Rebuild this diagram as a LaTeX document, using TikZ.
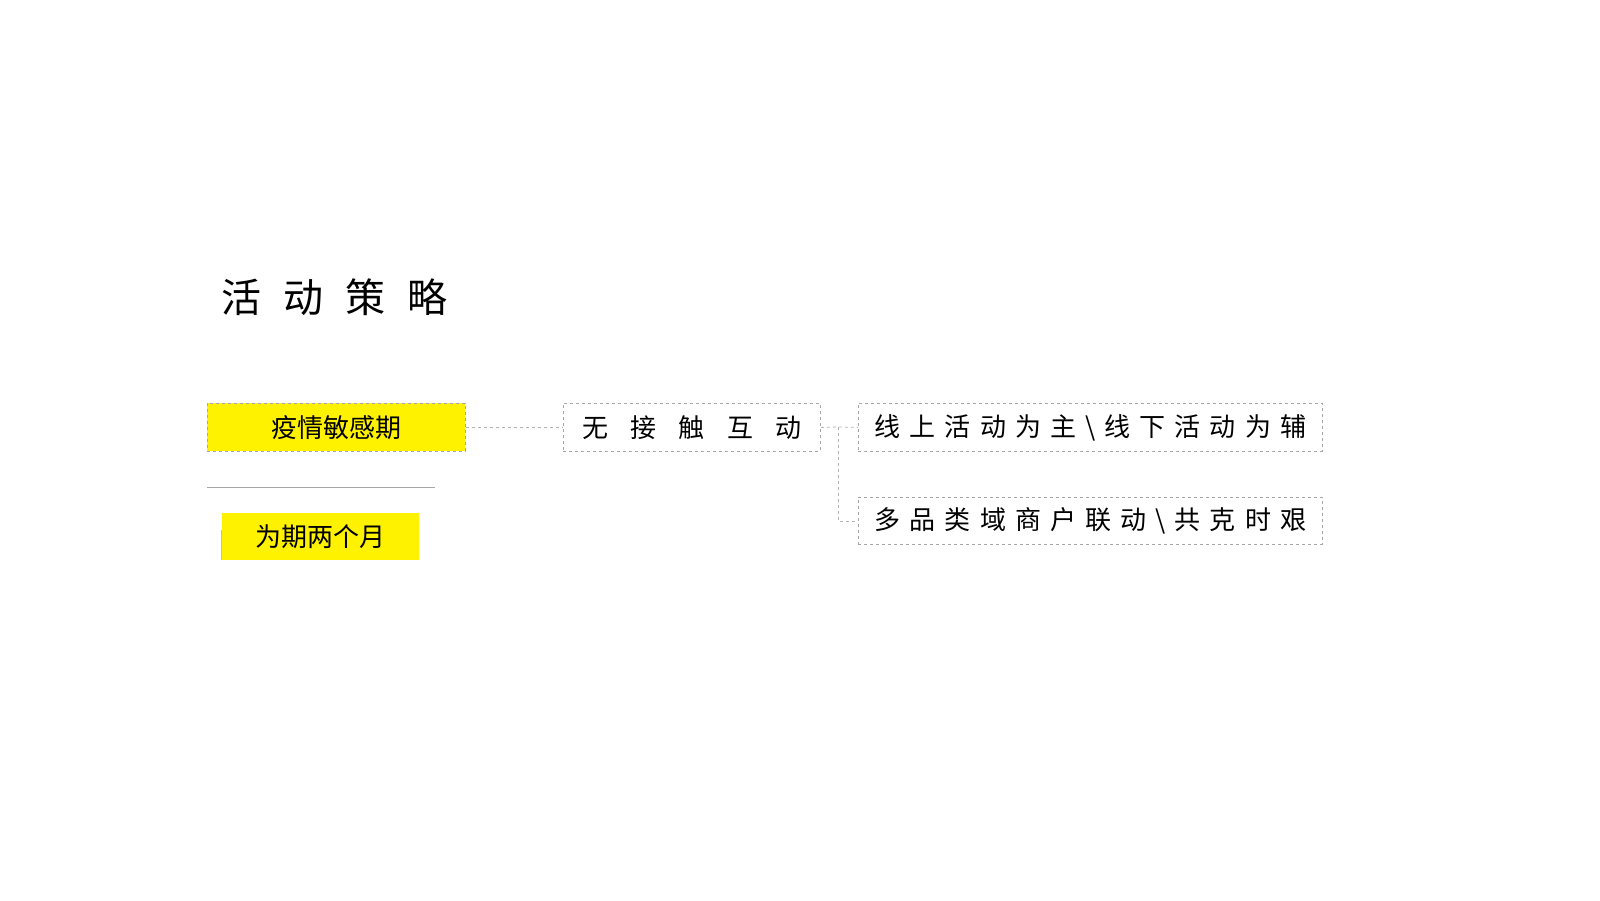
\documentclass[tikz,border=0pt]{standalone}
\usepackage{fontspec}
\newfontfamily\cjk{Noto Sans CJK SC}
\begin{document}
\begin{tikzpicture}[x=1pt,y=-1pt,
  dbox/.style={draw=gray!70,dashed,line width=0.8pt,inner sep=0pt,anchor=north west},
  conn/.style={draw=gray!60,dashed,line width=0.8pt},
  txt/.style={font=\cjk\fontsize{26}{30}\selectfont}]
\useasboundingbox (0,0) rectangle (1600,900);
\node[anchor=west,font=\cjk\fontsize{40}{46}\selectfont] (title) at (218,297) {活\hspace{0.55em}动\hspace{0.55em}策\hspace{0.55em}略};
\node[dbox,fill=yellow,minimum width=258pt,minimum height=48pt] (a) at (207,403) {};
\node[txt] at (a.center) {疫情敏感期};
\node[dbox,minimum width=257pt,minimum height=48pt] (b) at (563,403) {};
\node[txt] at (b.center) {无\hspace{0.85em}接\hspace{0.85em}触\hspace{0.85em}互\hspace{0.85em}动};
\node[dbox,minimum width=464pt,minimum height=48pt] (c) at (858,403) {};
\node[txt] at (c.center) {线\hspace{0.35em}上\hspace{0.35em}活\hspace{0.35em}动\hspace{0.35em}为\hspace{0.35em}主\hspace{0.35em}\textbackslash\hspace{0.35em}线\hspace{0.35em}下\hspace{0.35em}活\hspace{0.35em}动\hspace{0.35em}为\hspace{0.35em}辅};
\node[dbox,minimum width=464pt,minimum height=47pt] (d) at (858,497) {};
\node[txt] at (d.center) {多\hspace{0.35em}品\hspace{0.35em}类\hspace{0.35em}域\hspace{0.35em}商\hspace{0.35em}户\hspace{0.35em}联\hspace{0.35em}动\hspace{0.35em}\textbackslash\hspace{0.35em}共\hspace{0.35em}克\hspace{0.35em}时\hspace{0.35em}艰};
\node[anchor=north west,fill=yellow,minimum width=197pt,minimum height=47pt,inner sep=0pt] (e) at (222,513) {};
\node[txt] at (e.center) {为期两个月};
\coordinate (j) at (838,427);
\draw[conn] (a.east) -- (b.west);
\draw[conn] (b.east) -- (j) -- (c.west);
\draw[conn] (j) |- (d.west);
\draw[gray!70,line width=0.8pt] (207,487) -- (435,487);
\draw[gray!50,line width=0.8pt] (221,530) -- (221,560);
\end{tikzpicture}
\end{document}
